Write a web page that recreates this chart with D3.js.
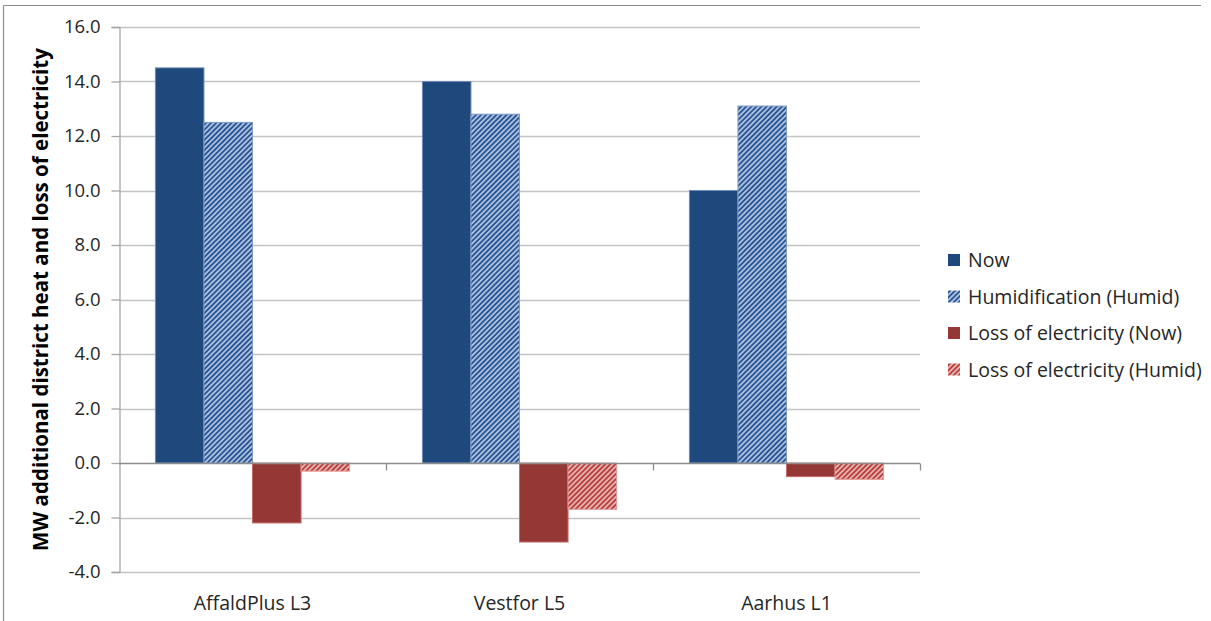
<!DOCTYPE html>
<html>
<head>
<meta charset="utf-8">
<script src="https://cdn.jsdelivr.net/npm/d3@7/dist/d3.min.js"></script>
<style>
  html, body { margin: 0; padding: 0; background: #fff; }
  svg { display: block; font-family: "Open Sans", Lato, sans-serif; }
</style>
</head>
<body>
<svg id="chart" width="1211" height="621"></svg>
<script>
// Plants on the category axis
const categories = ["AffaldPlus L3", "Vestfor L5", "Aarhus L1"];
// Series names, in legend order
const seriesNames = ["Now", "Humidification (Humid)", "Loss of electricity (Now)", "Loss of electricity (Humid)"];
// MW values per series, one per plant
const nowValues = [14.5, 14.0, 10.0];
const humidValues = [12.5, 12.8, 13.1];
const lossNowValues = [-2.2, -2.9, -0.5];
const lossHumidValues = [-0.3, -1.7, -0.6];
// Value axis ticks
const yTicks = [-4, -2, 0, 2, 4, 6, 8, 10, 12, 14, 16];

const seriesValues = [nowValues, humidValues, lossNowValues, lossHumidValues];

const svg = d3.select("#chart");

// Fills: solid and wide-upward-diagonal hatch
const defs = svg.append("defs");
function hatch(id, bg, fg) {
  const p = defs.append("pattern")
    .attr("id", id)
    .attr("patternUnits", "userSpaceOnUse")
    .attr("width", 3.6).attr("height", 3.6)
    .attr("patternTransform", "rotate(45)");
  p.append("rect").attr("width", 3.6).attr("height", 3.6).attr("fill", bg);
  p.append("rect").attr("width", 1.8).attr("height", 3.6).attr("fill", fg);
}
hatch("hatchBlue", "#a9c0e2", "#2b5590");
hatch("hatchRed", "#eab0ae", "#b5413f");

const fills = ["#1f497d", "url(#hatchBlue)", "#953735", "url(#hatchRed)"];
const strokes = ["#6d8cb8", "#7f9cc8", "#c56a68", "#e39a98"];

// Outer frame (top and left edges)
svg.append("line").attr("x1", 3.5).attr("x2", 1201).attr("y1", 5.5).attr("y2", 5.5)
  .attr("stroke", "#8c8c8c").attr("stroke-width", 1.2);
svg.append("line").attr("x1", 3.5).attr("x2", 3.5).attr("y1", 5.5).attr("y2", 621)
  .attr("stroke", "#8c8c8c").attr("stroke-width", 1.2);

const plot = { left: 119, right: 920, top: 27, bottom: 572 };

const y = d3.scaleLinear().domain([-4, 16]).range([plot.bottom, plot.top]);
const x0 = d3.scaleBand().domain(categories).range([plot.left, plot.right]).paddingInner(0).paddingOuter(0);
const x1 = d3.scaleBand().domain(seriesNames).range([0, x0.bandwidth()]).paddingInner(0).paddingOuter(0.75);

// Horizontal gridlines
svg.append("g").selectAll("line").data(yTicks.filter(t => t !== 0)).join("line")
  .attr("x1", plot.left).attr("x2", plot.right)
  .attr("y1", d => Math.round(y(d)) + 0.5).attr("y2", d => Math.round(y(d)) + 0.5)
  .attr("stroke", "#c4c4c4").attr("stroke-width", 1.3);

// Value axis
const yAxis = svg.append("g")
  .attr("transform", `translate(${plot.left + 0.5},0)`)
  .call(d3.axisLeft(y).tickValues(yTicks).tickFormat(d => d.toFixed(1)).tickSize(8).tickPadding(11));
yAxis.select(".domain").attr("stroke", "#a6a6a6").attr("stroke-width", 1.3);
yAxis.selectAll(".tick line").attr("stroke", "#a6a6a6").attr("stroke-width", 1.3);
yAxis.selectAll(".tick text").attr("font-size", 18.5).attr("fill", "#262626")
  .attr("font-family", "'Open Sans', sans-serif");

// Bars
const groups = svg.append("g").selectAll("g").data(categories).join("g")
  .attr("transform", d => `translate(${x0(d)},0)`);
groups.selectAll("rect")
  .data((c, ci) => seriesNames.map((s, si) => ({ s, si, v: seriesValues[si][ci] })))
  .join("rect")
  .attr("x", d => x1(d.s))
  .attr("width", x1.bandwidth())
  .attr("y", d => y(Math.max(0, d.v)))
  .attr("height", d => Math.abs(y(d.v) - y(0)))
  .attr("fill", d => fills[d.si])
  .attr("stroke", d => strokes[d.si])
  .attr("stroke-width", 1);

// Category axis along zero
const zy = Math.round(y(0)) + 0.5;
svg.append("line").attr("x1", plot.left).attr("x2", plot.right).attr("y1", zy).attr("y2", zy)
  .attr("stroke", "#8c8c8c").attr("stroke-width", 1.5);
const bounds = categories.map(c => x0(c)).concat([plot.right]).slice(1);
svg.append("g").selectAll("line").data(bounds).join("line")
  .attr("x1", d => Math.round(d) + 0.5).attr("x2", d => Math.round(d) + 0.5)
  .attr("y1", zy).attr("y2", zy + 7)
  .attr("stroke", "#8c8c8c").attr("stroke-width", 1.3);

// Category labels
svg.append("g").selectAll("text").data(categories).join("text")
  .attr("x", d => x0(d) + x0.bandwidth() / 2)
  .attr("y", 610)
  .attr("text-anchor", "middle")
  .attr("font-size", 19.5)
  .attr("fill", "#262626")
  .text(d => d);

// Value axis title
svg.append("text")
  .attr("transform", `translate(48,${(plot.top + plot.bottom) / 2}) rotate(-90)`)
  .attr("text-anchor", "middle")
  .attr("font-size", 20.5)
  .attr("font-weight", "bold")
  .attr("fill", "#000")
  .text("MW additional district heat and loss of electricity");

// Legend
const legend = svg.append("g").selectAll("g").data(seriesNames).join("g")
  .attr("transform", (d, i) => `translate(948,${260 + i * 36.5})`);
legend.append("rect")
  .attr("x", 0).attr("y", -6).attr("width", 12).attr("height", 12)
  .attr("fill", (d, i) => fills[i]);
legend.append("text")
  .attr("x", 20).attr("y", 7)
  .attr("font-size", 19.5)
  .attr("fill", "#262626")
  .text(d => d);
</script>
</body>
</html>
